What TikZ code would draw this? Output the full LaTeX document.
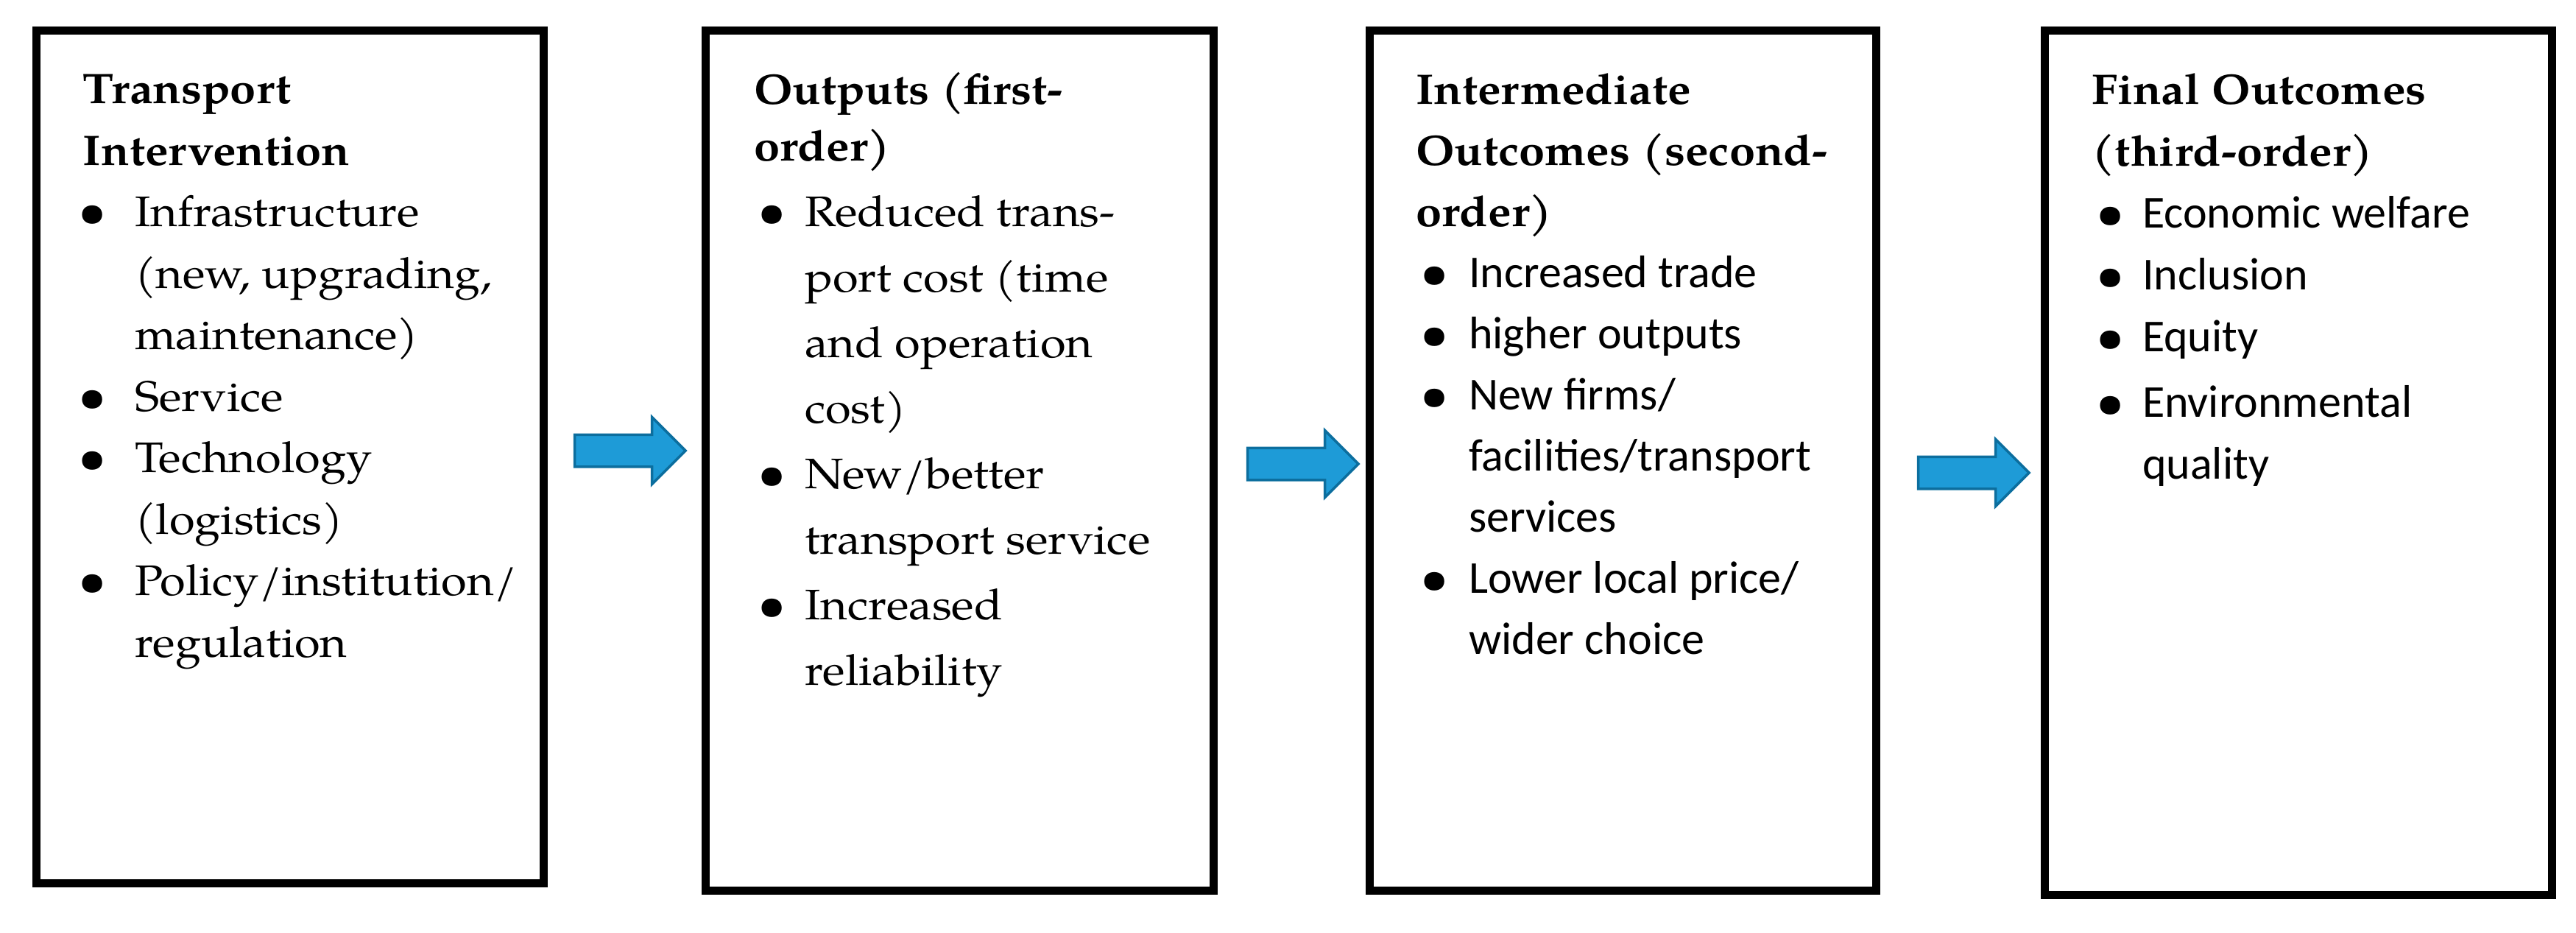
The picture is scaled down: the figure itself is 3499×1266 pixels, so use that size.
\documentclass[tikz,border=0pt]{standalone}
\usepackage{fontspec}
\usepackage{graphicx}
\setmainfont{texgyrepagella}[Extension=.otf,UprightFont=*-regular,BoldFont=*-bold,ItalicFont=*-italic,BoldItalicFont=*-bolditalic,FakeStretch=1.09]
\newfontfamily\carl{Carlito}
\usetikzlibrary{shapes.arrows,calc}
\definecolor{arrowfill}{RGB}{30,155,215}
\definecolor{arrowedge}{RGB}{12,110,158}
\newcommand\mybul{\scalebox{1.08}{\textbullet}}
\newcommand\bl[2]{\makebox[#2][l]{\hspace*{#1}\hspace*{-1.3pt}\mybul}}
\newcommand\sline{\fontsize{12.4}{16.6}\selectfont\carl}
\tikzset{
  box/.style={draw=black, line width=2.2pt, inner sep=0pt},
  txt/.style={anchor=north west, inner sep=0pt, align=left},
  blockarr/.style={single arrow, draw=arrowedge, fill=arrowfill, line width=0.7pt,
    inner xsep=0pt, inner ysep=4pt, single arrow head extend=4.75pt, minimum height=30.1pt},
}
\begin{document}
\begin{tikzpicture}[x=0.2pt,y=-0.2pt]
\useasboundingbox (0,0) rectangle (3499,1266);
% boxes
\node[box, minimum width=137.6pt, minimum height=231.4pt] (b1) at (394,620.5) {};
\node[box, minimum width=138pt, minimum height=233.4pt] (b2) at (1303,625.5) {};
\node[box, minimum width=137.6pt, minimum height=233.4pt] (b3) at (2204,625.5) {};
\node[box, minimum width=137.8pt, minimum height=234.6pt] (b4) at (3121.5,628.5) {};
% texts
\node[txt, font={\fontsize{11.6}{16.7}\selectfont}] (t1) at (112,81.5) {%
\strut\textbf{Transport}\\
\textbf{Intervention}\\
\bl{0pt}{14pt}Infrastructure\\
\hspace*{14pt}(new, upgrading,\\
\hspace*{14pt}maintenance)\\
\bl{0pt}{14pt}Service\\
\bl{0pt}{14pt}Technology\\
\hspace*{14pt}(logistics)\\
\bl{0pt}{14pt}Policy/institution/\\
\hspace*{14pt}regulation};
\node[txt, font={\fontsize{11.6}{17.8}\selectfont}] (t2) at (1023,77.7) {%
\strut\textbf{Outputs (first-}\\[-2.4pt]
\textbf{order)}\\
\bl{2.4pt}{13.8pt}Reduced trans-\\
\hspace*{13.8pt}port cost (time\\
\hspace*{13.8pt}and operation\\
\hspace*{13.8pt}cost)\\
\bl{2.4pt}{13.8pt}New/better\\
\hspace*{13.8pt}transport service\\
\bl{2.4pt}{13.8pt}Increased\\
\hspace*{13.8pt}reliability};
\node[txt, font={\fontsize{11.6}{16.6}\selectfont}] (t3) at (1922,81.9) {%
\strut\textbf{Intermediate}\\
\textbf{Outcomes (second-}\\
\textbf{order)}\\
\bl{2.6pt}{14.4pt}{\sline Increased trade}\\
\bl{2.6pt}{14.4pt}{\sline higher outputs}\\
\bl{2.6pt}{14.4pt}{\sline New firms/}\\
\hspace*{14.4pt}{\sline facilities/transport}\\
\hspace*{14.4pt}{\sline services}\\
\bl{2.6pt}{14.4pt}{\sline Lower local price/}\\
\hspace*{14.4pt}{\sline wider choice}};
\node[txt, font={\fontsize{11.6}{16.8}\selectfont}] (t4) at (2840,81.2) {%
\strut\textbf{Final Outcomes}\\
\textbf{(third-order)}\\
\bl{2.6pt}{13.8pt}{\sline Economic welfare}\\
\bl{2.6pt}{13.8pt}{\sline Inclusion}\\
\bl{2.6pt}{13.8pt}{\sline Equity}\\[1pt]
\bl{2.6pt}{13.8pt}{\sline Environmental}\\
\hspace*{13.8pt}{\sline quality}};
% block arrows between boxes
\node[blockarr] (a1) at ($(b1.east)!0.5!(b2.west)+(-3,-11)$) {};
\node[blockarr] (a2) at ($(b2.east)!0.5!(b3.west)+(5,4.5)$) {};
\node[blockarr] (a3) at ($(b3.east)!0.5!(b4.west)+(7.5,15)$) {};
\end{tikzpicture}
\end{document}
